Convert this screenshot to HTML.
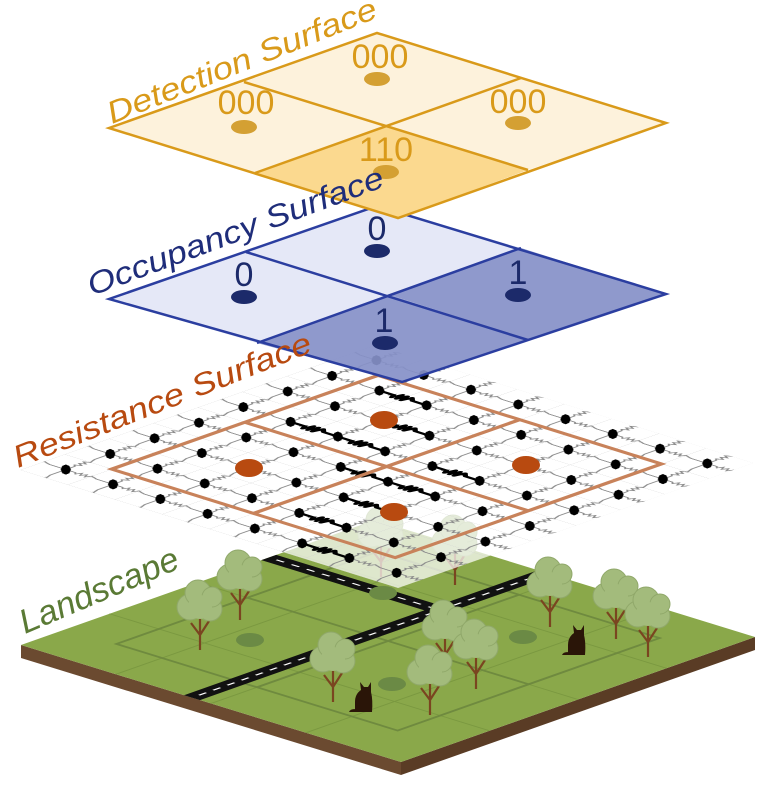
<!DOCTYPE html>
<html><head><meta charset="utf-8"><style>
html,body{margin:0;padding:0;background:#fff;}
svg{display:block;}
text{font-family:"Liberation Sans",sans-serif;font-style:italic;}
</style></head><body>
<svg width="763" height="786" viewBox="0 0 763 786" xmlns="http://www.w3.org/2000/svg">
<defs>
  <g id="tree">
    <path d="M0,8 L0,45 M0,30 L-9,18 M0,30 L9,16" stroke="#7a4520" stroke-width="2.2" fill="none"/>
    <circle cx="-10" cy="2" r="13" fill="#a3bb7c" stroke="#90a86a"/>
    <circle cx="10" cy="4" r="12" fill="#a3bb7c" stroke="#90a86a"/>
    <circle cx="-2" cy="-12" r="13" fill="#a3bb7c" stroke="#90a86a"/>
    <circle cx="12" cy="-8" r="10" fill="#a3bb7c" stroke="#90a86a"/>
    <circle cx="0" cy="2" r="12" fill="#a3bb7c"/>
  </g>
  <g id="cat">
    <path d="M-10,0 L-10,-10 Q-10,-18 -4,-22 L-5,-30 L-1,-25 L3,-25 L6,-30 L6,-20 Q8,-12 7,0 Z M-10,0 L-16,0 Q-15,-3 -10,-3Z" fill="#2a1508"/>
  </g>
  <pattern id="dots" patternUnits="userSpaceOnUse" width="2" height="2">
    <polyline points="1,1 1,1.4 0.9,1.5 1.1,1.6 0.9,1.7 1.1,1.8 0.9,1.9 1.1,2.0 0.9,2.1 1.1,2.2 1,2.3 1,3" fill="none" stroke="#8a8a8a" stroke-width="0.06"/>
    <polyline points="1,1 1.4,1 1.5,0.9 1.6,1.1 1.7,0.9 1.8,1.1 1.9,0.9 2.0,1.1 2.1,0.9 2.2,1.1 2.3,1 3,1" fill="none" stroke="#8a8a8a" stroke-width="0.06"/>
    <polyline points="1,-1 1,-0.6 0.9,-0.5 1.1,-0.4 0.9,-0.3 1.1,-0.2 0.9,-0.1 1.1,0 1,0.3 1,1" fill="none" stroke="#8a8a8a" stroke-width="0.06"/>
    <polyline points="-1,1 -0.6,1 -0.5,0.9 -0.4,1.1 -0.3,0.9 -0.2,1.1 -0.1,0.9 0,1.1 0.3,1 1,1" fill="none" stroke="#8a8a8a" stroke-width="0.06"/>
    <g transform="translate(1,1) scale(1.45) translate(-1,-1)">
      <polygon points="1.0741,1.0785 0.8845,1.2132 0.7625,1.2230 0.7796,1.1022 0.9259,0.9215 1.1155,0.7868 1.2375,0.7770 1.2204,0.8978" fill="#000"/>
    </g>
  </pattern>
  <pattern id="fine" patternUnits="userSpaceOnUse" width="1" height="1">
    <path d="M0,0 H1 M0,0 V1" stroke="#cfcfcf" stroke-width="0.03" fill="none"/>
  </pattern>
</defs>

<!-- LANDSCAPE -->
<polygon points="21,645 401,762 401,775 21,658" fill="#6b4a30"/>
<polygon points="401,762 755,637 755,650 401,775" fill="#5a3c25"/>
<g transform="matrix(35.4,-12.5,38,11.7,21,645)">
  <polygon points="0,0 10,0 10,10 0,10" fill="#8aa84a"/>
  <g stroke="#7a9840" stroke-width="0.04" fill="none">
    <path d="M0,2.5H10M0,5H10M0,7.5H10M2.5,0V10M5,0V10M7.5,0V10"/>
  </g>
  <g stroke="#6f8a3f" stroke-width="0.08" fill="none">
    <rect x="1.3" y="1.3" width="7.4" height="7.4"/>
    <path d="M5,1.3V8.7M1.3,5H8.7"/>
  </g>
  <path d="M7,0 V4.5 M0,4.5 H10" stroke="#111" stroke-width="0.42" fill="none"/>
  <path d="M7,0.2 V4.3 M0.2,4.5 H9.8" stroke="#fff" stroke-width="0.05" stroke-dasharray="0.2,0.2" fill="none"/>
</g>
<ellipse cx="383" cy="593" rx="14" ry="7" fill="#6b8a45"/>
<ellipse cx="250" cy="640" rx="14" ry="7" fill="#6b8a45"/>
<ellipse cx="523" cy="637" rx="14" ry="7" fill="#6b8a45"/>
<ellipse cx="392" cy="684" rx="14" ry="7" fill="#6b8a45"/>
<use href="#tree" x="381" y="532"/>
<use href="#tree" x="455" y="540"/>
<use href="#tree" x="240" y="575"/>
<use href="#tree" x="200" y="605"/>
<use href="#tree" x="550" y="582"/>
<use href="#tree" x="616" y="594"/>
<use href="#tree" x="648" y="612"/>
<use href="#tree" x="445" y="625"/>
<use href="#tree" x="476" y="644"/>
<use href="#tree" x="333" y="657"/>
<use href="#tree" x="430" y="670"/>
<use href="#cat" x="578" y="655"/>
<use href="#cat" x="365" y="712"/>

<!-- RESISTANCE -->
<g transform="matrix(22.19,-7.81,23.63,7.375,20,470)">
  <polygon points="0,0 16,0 16,16 0,16" fill="#ffffff" fill-opacity="0.72"/>
  <polygon points="0,0 16,0 16,16 0,16" fill="url(#fine)"/>
  <polygon points="0,0 16,0 16,16 0,16" fill="url(#dots)"/>
  <g stroke="#000" stroke-width="0.16" fill="none" stroke-linejoin="round">
    <polyline points="9,3 9,3.6 8.8,3.7 9.2,3.8 8.8,3.9 9.2,4 8.8,4.1 9.2,4.2 9,4.4 9,5 9,5.6 8.8,5.7 9.2,5.8 8.8,5.9 9.2,6 8.8,6.1 9.2,6.2 9,6.4 9,7"/>
    <polyline points="7,7 7,7.6 6.8,7.7 7.2,7.8 6.8,7.9 7.2,8 6.8,8.1 7.2,8.2 7,8.4 7,9 7,9.6 6.8,9.7 7.2,9.8 6.8,9.9 7.2,10 6.8,10.1 7.2,10.2 7,10.4 7,11"/>
    <polyline points="5,9 5,9.6 4.8,9.7 5.2,9.8 4.8,9.9 5.2,10 4.8,10.1 5.2,10.2 5,10.4 5,11"/>
    <polyline points="3,9 3,9.6 2.8,9.7 3.2,9.8 2.8,9.9 3.2,10 2.8,10.1 3.2,10.2 3,10.4 3,11"/>
    <polyline points="1,11 1,11.6 0.8,11.7 1.2,11.8 0.8,11.9 1.2,12 0.8,12.1 1.2,12.2 1,12.4 1,13"/>
    <polyline points="13,3 13,3.6 12.8,3.7 13.2,3.8 12.8,3.9 13.2,4 12.8,4.1 13.2,4.2 13,4.4 13,5"/>
    <polyline points="11,5 11,5.6 10.8,5.7 11.2,5.8 10.8,5.9 11.2,6 10.8,6.1 11.2,6.2 11,6.4 11,7"/>
    <polyline points="9,9 9,9.6 8.8,9.7 9.2,9.8 8.8,9.9 9.2,10 8.8,10.1 9.2,10.2 9,10.4 9,11"/>
  </g>
  <g fill="none" stroke="#c8825a" stroke-width="0.22">
    <polygon points="2,2 14,2 14,14 2,14"/>
    <path d="M8,2V14M2,8H14"/>
  </g>
</g>
<ellipse cx="384" cy="420" rx="14" ry="9" fill="#b84a10"/>
<ellipse cx="249" cy="468" rx="14" ry="9" fill="#b84a10"/>
<ellipse cx="526" cy="465" rx="14" ry="9" fill="#b84a10"/>
<ellipse cx="394" cy="512" rx="14" ry="9" fill="#b84a10"/>

<!-- OCCUPANCY -->
<polygon points="109,299 246,252 390,295 257,343" fill="#e3e6f6" fill-opacity="0.92"/>
<polygon points="246,252 377,206 521,248 390,295" fill="#e3e6f6" fill-opacity="0.92"/>
<polygon points="390,295 521,248 666,294 528,340" fill="#8590c8" fill-opacity="0.92"/>
<polygon points="257,343 390,295 528,340 402,382" fill="#8590c8" fill-opacity="0.92"/>
<g fill="none" stroke="#2b3ea0" stroke-width="2.5">
  <polygon points="109,299 377,206 666,294 402,382"/>
  <path d="M246,252 L528,340 M521,248 L257,343"/>
</g>
<g fill="#1c2a6a">
  <ellipse cx="377" cy="251" rx="13" ry="7"/>
  <ellipse cx="244" cy="297" rx="13" ry="7"/>
  <ellipse cx="518" cy="295" rx="13" ry="7"/>
  <ellipse cx="385" cy="343" rx="13" ry="7"/>
</g>
<g fill="#1c2a6a" font-size="34" text-anchor="middle">
  <text x="377" y="240" style="font-style:normal">0</text>
  <text x="244" y="286" style="font-style:normal">0</text>
  <text x="518" y="284" style="font-style:normal">1</text>
  <text x="384" y="332" style="font-style:normal">1</text>
</g>

<!-- DETECTION -->
<polygon points="109,128 244,82 390,126 255,173" fill="#fdf2dc"/>
<polygon points="244,82 377,33 521,78 390,126" fill="#fdf2dc"/>
<polygon points="390,126 521,78 666,123 528,170" fill="#fdf2dc"/>
<polygon points="255,173 390,126 528,170 398,218" fill="#fbd98f"/>
<g fill="none" stroke="#d99a1a" stroke-width="2.5">
  <polygon points="109,128 377,33 666,123 398,218"/>
  <path d="M244,82 L528,170 M521,78 L255,173"/>
</g>
<g fill="#d4a033">
  <ellipse cx="377" cy="79" rx="13" ry="7"/>
  <ellipse cx="244" cy="127" rx="13" ry="7"/>
  <ellipse cx="518" cy="123" rx="13" ry="7"/>
  <ellipse cx="386" cy="172" rx="13" ry="7"/>
</g>
<g fill="#d99a1a" font-size="34" text-anchor="middle">
  <text x="380" y="68" style="font-style:normal">000</text>
  <text x="246" y="114" style="font-style:normal">000</text>
  <text x="518" y="113" style="font-style:normal">000</text>
  <text x="386" y="161" style="font-style:normal">110</text>
</g>

<!-- LABELS -->
<text transform="translate(112,124) rotate(-21.8)" font-size="31" fill="#d99a1a" textLength="288" lengthAdjust="spacingAndGlyphs">Detection Surface</text>
<text transform="translate(92,296) rotate(-20.5)" font-size="31" fill="#1f2d7a" textLength="314" lengthAdjust="spacingAndGlyphs">Occupancy Surface</text>
<text transform="translate(18,468) rotate(-21.5)" font-size="31" fill="#b84a10" textLength="318" lengthAdjust="spacingAndGlyphs">Resistance Surface</text>
<text transform="translate(25,634) rotate(-23)" font-size="34" fill="#5a7a35" textLength="170" lengthAdjust="spacingAndGlyphs">Landscape</text>
</svg>
</body></html>
